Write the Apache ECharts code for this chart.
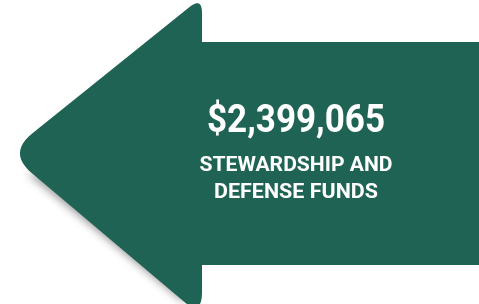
<!DOCTYPE html>
<html>
<head>
<meta charset="utf-8">
<script src="https://cdn.jsdelivr.net/npm/echarts@6/dist/echarts.min.js"></script>
<style>
  html, body { margin: 0; padding: 0; background: #fff; }
  #main { width: 479px; height: 304px; }
</style>
</head>
<body>
<div id="main"></div>
<script>
// figure shown on the arrow
const amountValues = [2399065];
const labelLines = ['STEWARDSHIP AND', 'DEFENSE FUNDS'];

const green = '#1f6354';
const font = 'Roboto, "Liberation Sans", sans-serif';

// rounded corner: points on a quadratic curve cut d px back from the corner
function corner(prev, c, next, d) {
  const a = [prev[0] - c[0], prev[1] - c[1]];
  const b = [next[0] - c[0], next[1] - c[1]];
  const la = Math.hypot(a[0], a[1]), lb = Math.hypot(b[0], b[1]);
  const p1 = [c[0] + a[0] / la * d, c[1] + a[1] / la * d];
  const p2 = [c[0] + b[0] / lb * d, c[1] + b[1] / lb * d];
  const pts = [];
  for (let i = 0; i <= 12; i++) {
    const t = i / 12, u = 1 - t;
    pts.push([
      u * u * p1[0] + 2 * u * t * c[0] + t * t * p2[0],
      u * u * p1[1] + 2 * u * t * c[1] + t * t * p2[1]
    ]);
  }
  return pts;
}
const topApex = [202, -3], tip = [8, 153], botApex = [202, 317];
const bodyTop = [202, 42], bodyBot = [202, 265];
const arrowPoints = [].concat(
  [[479, 42], bodyTop],
  corner(bodyTop, topApex, tip, 16),
  corner(topApex, tip, botApex, 31),
  corner(tip, botApex, bodyBot, 25),
  [bodyBot, [479, 265]]
);

// only the lower slanted edge casts a shadow
const shadowPoints = [[30, 168], [190, 300], [150, 170]];

// the original type is a condensed face, so squeeze to the measured width
const ctx = document.createElement('canvas').getContext('2d');
function squeeze(text, css, width) {
  ctx.font = css;
  return width / ctx.measureText(text).width;
}

function label(text, size, y, width) {
  const css = 'bold ' + size + 'px ' + font;
  return {
    type: 'text',
    x: 296,
    y: y,
    scaleX: squeeze(text, css, width),
    style: {
      text: text,
      fill: '#fff',
      font: css,
      textAlign: 'center',
      textVerticalAlign: 'middle'
    }
  };
}

const amountText = '$' + amountValues[0].toLocaleString('en-US');

let chart = echarts.init(document.getElementById('main'));
chart.setOption({
  backgroundColor: '#ffffff',
  graphic: [
    {
      type: 'polygon',
      shape: { points: shadowPoints },
      style: {
        fill: green,
        shadowBlur: 8,
        shadowColor: 'rgba(0,0,0,0.4)',
        shadowOffsetX: -3,
        shadowOffsetY: 5
      }
    },
    {
      type: 'polygon',
      shape: { points: arrowPoints },
      style: { fill: green }
    },
    label(amountText, 38, 122, 178),
    label(labelLines[0], 21, 166, 193),
    label(labelLines[1], 21, 192.5, 164)
  ]
});
window.onresize = function () {
  chart.resize();
};
</script>
</body>
</html>
